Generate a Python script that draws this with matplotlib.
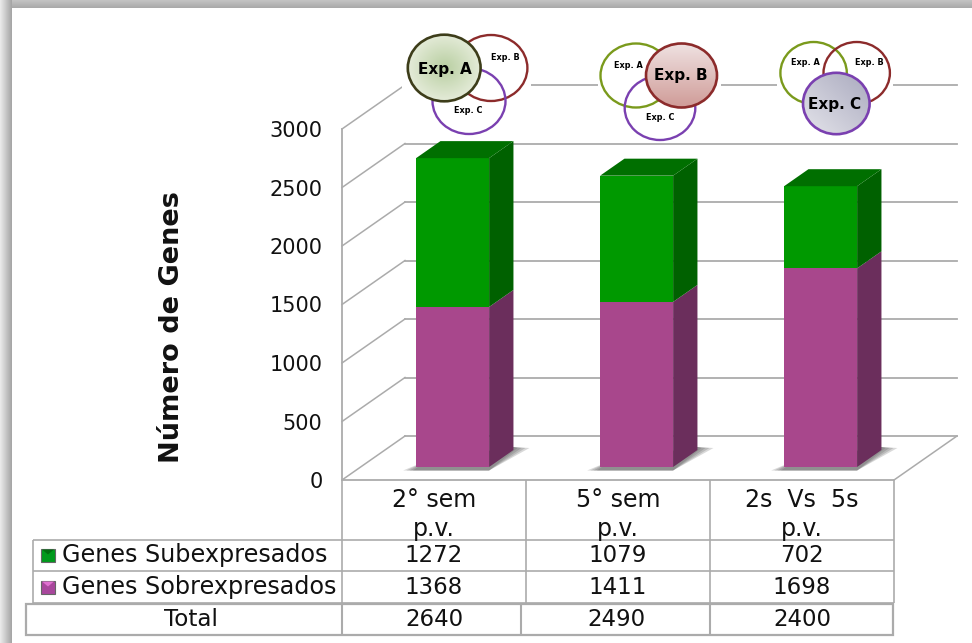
import numpy as np
import matplotlib
matplotlib.use('Agg')
from matplotlib import pyplot as plt
from matplotlib.patches import Ellipse, Polygon, Rectangle
from matplotlib.colors import LinearSegmentedColormap

W, H = 972, 643

categories = ['2° sem\np.v.', '5° sem\np.v.', '2s  Vs  5s\np.v.']
sobre = [1368, 1411, 1698]
sub = [1272, 1079, 702]
totals = [2640, 2490, 2400]
y_ticks = [0, 500, 1000, 1500, 2000, 2500, 3000]
series_names = ['Genes Subexpresados', 'Genes Sobrexpresados']

GREEN = ('#009900', '#006100', '#006f00')
PINK = ('#a8478c', '#6b2e5c', '#8a3a74')
GRID = '#ababab'

# oblique projection of the 3d box, in data units per unit of depth
DEPTH_X = 63 / 184.0
DEPTH_Y = 44 / 0.117
BAR_W = 73 / 184.0
BAR_D0 = 13 / 44.0
BAR_D1 = 30 / 44.0
# one pixel in data units
PX = 3 / 552.0
PY = 3000 / 351.0


def proj(x, y, d):
    return (x + DEPTH_X * d, y + DEPTH_Y * d)


def vgrad(ax, extent, c0, c1, horizontal=False, zorder=1):
    cmap = LinearSegmentedColormap.from_list('g', [c0, c1])
    g = np.linspace(0, 1, 64)
    g = g.reshape(1, -1) if horizontal else g.reshape(-1, 1)
    return ax.imshow(g, extent=extent, cmap=cmap, aspect='auto', zorder=zorder,
                     origin='upper', interpolation='bilinear')


fig = plt.figure(figsize=(W / 100, H / 100), dpi=100)
fig.patch.set_facecolor('white')

# overlay in pixel coordinates for frame, table and circles
bg = fig.add_axes([0, 0, 1, 1], zorder=3)
bg.set_xlim(0, W)
bg.set_ylim(H, 0)
bg.axis('off')
bg.patch.set_alpha(0)

ax = fig.add_axes([342 / W, (H - 480) / H, 552 / W, 351 / H], zorder=2)
ax.set_xlim(0, 3)
ax.set_ylim(0, 3000)
ax.patch.set_alpha(0)
for s in ax.spines.values():
    s.set_visible(False)
ax.set_xticks([])
ax.set_yticks(y_ticks)
ax.tick_params(axis='y', length=0, pad=14, labelsize=15, labelcolor='#111111')

# walls and floor
for t in y_ticks:
    ax.plot(*zip(proj(0, t, 0), proj(0, t, 1)), color=GRID, lw=1.1, clip_on=False, zorder=1)
    ax.plot(*zip(proj(0, t, 1), proj(3, t, 1)), color=GRID, lw=1.3, clip_on=False, zorder=1)
ax.plot([0, 0], [0, 3000], color=GRID, lw=1.3, clip_on=False, zorder=1)
ax.plot(*zip(proj(3, 0, 1), proj(3, 0, 0)), color=GRID, lw=1.1, clip_on=False, zorder=1)

# the top wall line and its diagonal run behind the white diagram panels
for x0, x1 in ((402, 530.5), (597.5, 721), (777, 893)):
    ax.add_patch(Rectangle(((x0 - 342) * PX, (480 - 141) * PY), (x1 - x0) * PX, 115 * PY,
                           fc='white', ec='none', clip_on=False, zorder=1.5))

# stacked bars
for i in range(3):
    x0 = i + 0.5 - BAR_W / 2
    x1 = x0 + BAR_W
    # soft shadow on the floor
    bx, by = proj(x1, 0, BAR_D1)
    fy = proj(x0, 0, BAR_D0)[1]
    for k in (1.0, 0.75, 0.5, 0.25):
        ax.add_patch(Polygon([proj(x0 + 2 * PX, 0, BAR_D0 + 0.15),
                              (proj(x0, 0, BAR_D0)[0] - 13 * k * PX, fy - 3.5 * PY),
                              (proj(x1, 0, BAR_D0)[0], fy - 3.5 * PY),
                              (bx + 16 * k * PX, by + 2 * PY),
                              (bx, by + 3 * PY)],
                             fc='#444444', ec='none', alpha=0.2, clip_on=False, zorder=2))
    base = 0
    for val, col in ((sobre[i], PINK), (sub[i], GREEN)):
        top = base + val
        ax.add_patch(Polygon([proj(x1, base, BAR_D0), proj(x1, base, BAR_D1),
                              proj(x1, top, BAR_D1), proj(x1, top, BAR_D0)],
                             fc=col[1], ec='none', clip_on=False, zorder=3))
        ax.add_patch(Polygon([proj(x0, base, BAR_D0), proj(x1, base, BAR_D0),
                              proj(x1, top, BAR_D0), proj(x0, top, BAR_D0)],
                             fc=col[0], ec='none', clip_on=False, zorder=4))
        base = top
    ax.add_patch(Polygon([proj(x0, base, BAR_D0), proj(x1, base, BAR_D0),
                          proj(x1, base, BAR_D1), proj(x0, base, BAR_D1)],
                         fc=GREEN[2], ec='none', clip_on=False, zorder=4))

bg.text(172, 327, 'Número de Genes', rotation=90, ha='center', va='center',
        fontsize=19.5, fontweight='bold', color='#111111')

# frame shadow along the top and left edges
vgrad(bg, (0, W, 8, 0), '#c4c4c4', '#a9a9a9')
vgrad(bg, (0, 11, H, 0), '#ececec', '#a4a4a4', horizontal=True, zorder=2)
bg.set_xlim(0, W)
bg.set_ylim(H, 0)


def hline(x0, x1, y, lw=1.2, col=GRID):
    bg.plot([x0, x1], [y, y], color=col, lw=lw, solid_capstyle='butt')


def vline(x, y0, y1, lw=1.2, col=GRID):
    bg.plot([x, x], [y0, y1], color=col, lw=lw, solid_capstyle='butt')


# table grid
hline(342, 894, 480, 1.3)
for x in (342, 526, 710, 894):
    vline(x, 480, 603)
hline(33, 894, 539.5)
hline(33, 894, 571)
hline(33, 894, 603)
vline(33, 539.5, 603)
bg.add_patch(Rectangle((26, 604), 867, 31, fc='white', ec=GRID, lw=1.6, zorder=2))
for x in (342, 521, 710):
    vline(x, 604, 635, 1.5)

TXT = dict(ha='center', va='center', color='#111111')
centers = [434, 618, 802]
for cx, cat in zip(centers, categories):
    line1, line2 = cat.split('\n')
    bg.text(cx, 500, line1, fontsize=17, **TXT)
    bg.text(cx, 529, line2, fontsize=17, **TXT)
for cx, a, b, c in zip(centers, sub, sobre, totals):
    bg.text(cx, 555, str(a), fontsize=16.5, **TXT)
    bg.text(cx, 587, str(b), fontsize=16.5, **TXT)
    bg.text(cx if cx != 618 else 616, 620, str(c), fontsize=16.5, **TXT)
bg.text(62, 555, series_names[0], ha='left', va='center', fontsize=17.2, color='#111111')
bg.text(62, 587, series_names[1], ha='left', va='center', fontsize=17.2, color='#111111')
bg.text(191, 620, 'Total', fontsize=16.6, **TXT)

# legend keys
for y, c, tip in ((555, '#009a1c', '#006f10'), (587, '#a8479c', '#e070d0')):
    bg.add_patch(Rectangle((41, y - 6.5), 14, 13, fc=c, ec='#666666', lw=0.8, zorder=4))
    bg.add_patch(Polygon([(42, y - 5.5), (54, y - 5.5), (48, y - 0.5)], fc=tip, ec='none', zorder=5))


def venn_circle(cx, cy, rx, ry, edge, lw=1.7):
    bg.add_patch(Ellipse((cx, cy), 2 * rx, 2 * ry, fc='none', ec=edge, lw=lw, zorder=6))


def venn_filled(cx, cy, rx, ry, edge, colors, direction):
    n = 80
    yy, xx = np.mgrid[-1:1:n * 1j, -1:1:n * 1j]
    if direction == 'radial':
        g = np.clip(np.hypot(xx, yy), 0, 1)
    elif direction == 'down':
        g = (yy + 1) / 2
    else:
        g = (xx - yy + 2) / 4
    cmap = LinearSegmentedColormap.from_list('v', colors)
    im = bg.imshow(g, extent=(cx - rx, cx + rx, cy + ry, cy - ry), cmap=cmap, aspect='auto',
                   zorder=7, origin='upper', interpolation='bilinear')
    clip = Ellipse((cx, cy), 2 * rx, 2 * ry, transform=bg.transData)
    im.set_clip_path(clip)
    bg.add_patch(Ellipse((cx, cy), 2 * rx, 2 * ry, fc='none', ec=edge, lw=1.9, zorder=8))


OLIVE = '#7a9a1c'
RED = '#8c2b2b'
PURPLE = '#7a40b0'
BIG = dict(ha='center', va='center', fontsize=11, fontweight='bold', zorder=9)
SMALL = dict(ha='center', va='center', fontsize=5.9, fontweight='bold', zorder=9)

venn_circle(491, 68, 36.4, 33, RED)
venn_circle(469, 101, 36.5, 33, PURPLE)
venn_filled(444.2, 68, 36.4, 33.3, '#3d3d1a', ['#b9cfa2', '#e4ebd8'], 'radial')
bg.text(445, 69.5, 'Exp. A', **BIG)
bg.text(505, 57.5, 'Exp. B', **SMALL)
bg.text(468.5, 110.5, 'Exp. C', **SMALL)

venn_circle(636, 75.5, 35.5, 32, OLIVE)
venn_circle(660, 108, 35.3, 32, PURPLE)
venn_filled(681.5, 75.5, 35.5, 32, RED, ['#efe2e2', '#d09c98'], 'down')
bg.text(681, 75.5, 'Exp. B', **BIG)
bg.text(628, 65, 'Exp. A', **SMALL)
bg.text(660.5, 117, 'Exp. C', **SMALL)

venn_circle(813.6, 73, 33.2, 31, OLIVE)
venn_circle(856.7, 73, 33.2, 31, RED)
venn_filled(836.3, 103.5, 33.3, 30.7, PURPLE, ['#e4e4ea', '#a9a9be'], 'diag')
bg.text(835, 105, 'Exp. C', **BIG)
bg.text(805.5, 62.5, 'Exp. A', **SMALL)
bg.text(869, 62.5, 'Exp. B', **SMALL)

bg.set_xlim(0, W)
bg.set_ylim(H, 0)
fig.savefig('out.png', dpi=100, facecolor='white')
